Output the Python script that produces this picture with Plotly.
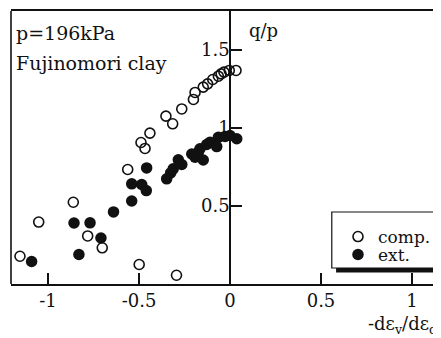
import plotly.graph_objects as go

# comp. (open circles)
comp_x = [0.033, -0.004, -0.033, -0.049, -0.064, -0.095, -0.123, -0.147, -0.192, -0.201,
          -0.265, -0.352, -0.315, -0.440, -0.489, -0.467, -0.562, -0.861, -1.051, -0.782,
          -0.702, -1.154, -0.499, -0.294]
comp_y = [1.369, 1.369, 1.358, 1.347, 1.332, 1.311, 1.283, 1.262, 1.228, 1.183,
          1.122, 1.076, 1.027, 0.967, 0.907, 0.869, 0.734, 0.524, 0.397, 0.308,
          0.232, 0.178, 0.125, 0.056]

# ext. (filled circles)
ext_x = [0.037, 0.0, -0.027, -0.064, -0.073, -0.110, -0.128, -0.165, -0.174, -0.210,
         -0.192, -0.147, -0.284, -0.265, -0.312, -0.326, -0.348, -0.458, -0.540, -0.485,
         -0.460, -0.540, -0.640, -0.857, -0.769, -0.709, -0.830, -1.090]
ext_y = [0.931, 0.952, 0.946, 0.941, 0.881, 0.909, 0.894, 0.867, 0.845, 0.833,
         0.813, 0.795, 0.796, 0.766, 0.738, 0.712, 0.674, 0.744, 0.642, 0.638,
         0.599, 0.532, 0.462, 0.391, 0.392, 0.295, 0.189, 0.144]

x_tickvals = [-1, -0.5, 0, 0.5, 1]
x_ticktext = ["-1", "-0.5", "0", "0.5", "1"]
y_tickvals = [0.5, 1, 1.5]
y_ticktext = ["0.5", "1", "1.5"]

FONT = "DejaVu Serif"
TXT = dict(family=FONT, size=18, color="#111")
BIG = dict(family=FONT, size=19, color="#111")

fig = go.Figure()
fig.add_trace(go.Scatter(
    x=comp_x, y=comp_y, mode="markers", name="comp.", legend="legend",
    marker=dict(symbol="circle-open", size=10, color="#111", line=dict(width=1.6, color="#111")),
))
fig.add_trace(go.Scatter(
    x=ext_x, y=ext_y, mode="markers", name="ext.", legend="legend2",
    marker=dict(symbol="circle", size=11.5, color="#111"),
))

# legend box with drop shadow
shapes = [
    dict(type="rect", xref="paper", yref="paper", x0=0.756, x1=1.005, y0=0.042, y1=0.245,
         fillcolor="#111", line=dict(width=0), layer="below"),
    dict(type="rect", xref="paper", yref="paper", x0=0.746, x1=0.988, y0=0.0586, y1=0.2637,
         fillcolor="white", line=dict(width=1.2, color="#111"), layer="below"),
    # left frame border
    dict(type="line", xref="paper", yref="paper", x0=0, x1=0, y0=0, y1=1,
         line=dict(width=1.6, color="#111")),
]

annotations = [
    dict(text="p=196kPa", xref="paper", yref="paper", x=0.006, y=0.918, xanchor="left",
         yanchor="middle", showarrow=False, font=BIG),
    dict(text="Fujinomori clay", xref="paper", yref="paper", x=0.006, y=0.81, xanchor="left",
         yanchor="middle", showarrow=False, font=BIG),
    dict(text="q/p", xref="paper", yref="paper", x=(247 - 11) / 430, y=(284 - 31) / 273,
         xanchor="left", yanchor="middle", showarrow=False, font=TXT),
    dict(text="-dε<sub>v</sub>/dε<sub>d</sub>", xref="paper", yref="paper",
         x=(366 - 11) / 430, y=-0.15, xanchor="left", yanchor="middle", showarrow=False, font=TXT),
]

fig.update_layout(
    width=433, height=330,
    margin=dict(l=3, r=0, t=3, b=54),
    paper_bgcolor="white", plot_bgcolor="white",
    font=TXT,
    showlegend=True,
    legend=dict(x=(338 - 11) / 430, y=(284 - 237) / 273, xanchor="left", yanchor="middle",
                bgcolor="rgba(0,0,0,0)", borderwidth=0, font=dict(family=FONT, size=17, color="#111"),
                itemwidth=30),
    legend2=dict(x=(338 - 11) / 430, y=(284 - 255) / 273, xanchor="left", yanchor="middle",
                 bgcolor="rgba(0,0,0,0)", borderwidth=0, font=dict(family=FONT, size=17, color="#111"),
                 itemwidth=30),
    xaxis=dict(range=[-1.2033, 1.1593], showgrid=False, zeroline=False,
               showline=True, linecolor="#111", linewidth=1.6, mirror=True,
               ticks="inside", ticklen=11, tickwidth=1.5, tickcolor="#111",
               tickvals=x_tickvals, ticktext=x_ticktext, tickfont=TXT),
    yaxis=dict(range=[0, 1.75], showgrid=False, zeroline=False,
               anchor="free", position=(230 - 11) / 430,
               showline=True, linecolor="#111", linewidth=1.5,
               ticks="inside", ticklen=11, tickwidth=1.5, tickcolor="#111",
               ticklabelstandoff=-4,
               tickvals=y_tickvals, ticktext=y_ticktext, tickfont=TXT),
    shapes=shapes,
    annotations=annotations,
)

fig.write_html("out.html")
